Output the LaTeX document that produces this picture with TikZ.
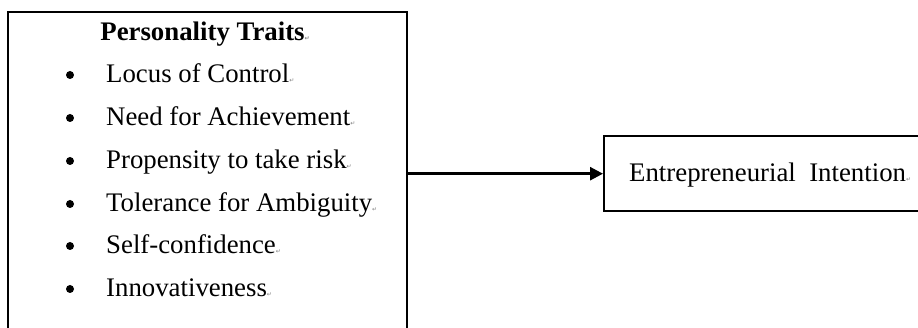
\documentclass[tikz,border=0pt]{standalone}
\usepackage{fontspec}
\setmainfont{Liberation Serif}
\newfontfamily\markfont{DejaVu Sans}
\usetikzlibrary{arrows.meta}
\newcommand{\pmark}{{\markfont\fontsize{6}{6}\selectfont\color{gray}↵}}
\tikzset{
  frame/.style={draw=black, line width=2.4pt, fill=none, inner sep=0pt},
  txt/.style={anchor=base west, inner sep=0pt, font=\fontsize{26.8}{30}\selectfont},
  ttl/.style={anchor=base, inner sep=0pt, font=\fontsize{26.8}{30}\selectfont\bfseries},
  bul/.style={circle, fill=black, inner sep=0pt, minimum size=8pt},
  conn/.style={line width=2.6pt, -{Triangle[length=13pt, width=13pt]}}
}
\begin{document}
\begin{tikzpicture}[x=1pt,y=-1pt]
\useasboundingbox (0,0) rectangle (918,328);
\node[frame, anchor=north west, minimum width=399pt, minimum height=345pt] (traits) at (7,11) {};
\node[frame, anchor=north west, minimum width=340pt, minimum height=75pt] (ei) at (603,135) {};
\node[ttl] (title) at (205,40.5) {Personality Traits\pmark};
\node[bul] (b1) at (70,75) {};
\node[txt] (t1) at (106,83) {Locus of Control\pmark};
\node[bul] (b2) at (70,118) {};
\node[txt] (t2) at (106,126) {Need for Achievement\pmark};
\node[bul] (b3) at (70,161) {};
\node[txt] (t3) at (106,169) {Propensity to take risk\pmark};
\node[bul] (b4) at (70,204) {};
\node[txt] (t4) at (106,212) {Tolerance for Ambiguity\pmark};
\node[bul] (b5) at (70,246) {};
\node[txt] (t5) at (106,254) {Self-confidence\pmark};
\node[bul] (b6) at (70,289) {};
\node[txt] (t6) at (106,297) {Innovativeness\pmark};
\node[txt] (eit) at (629,182) {Entrepreneurial\ \ Intention\pmark};
\draw[conn] (traits.east |- ei.west) -- (ei.west);
\end{tikzpicture}
\end{document}
